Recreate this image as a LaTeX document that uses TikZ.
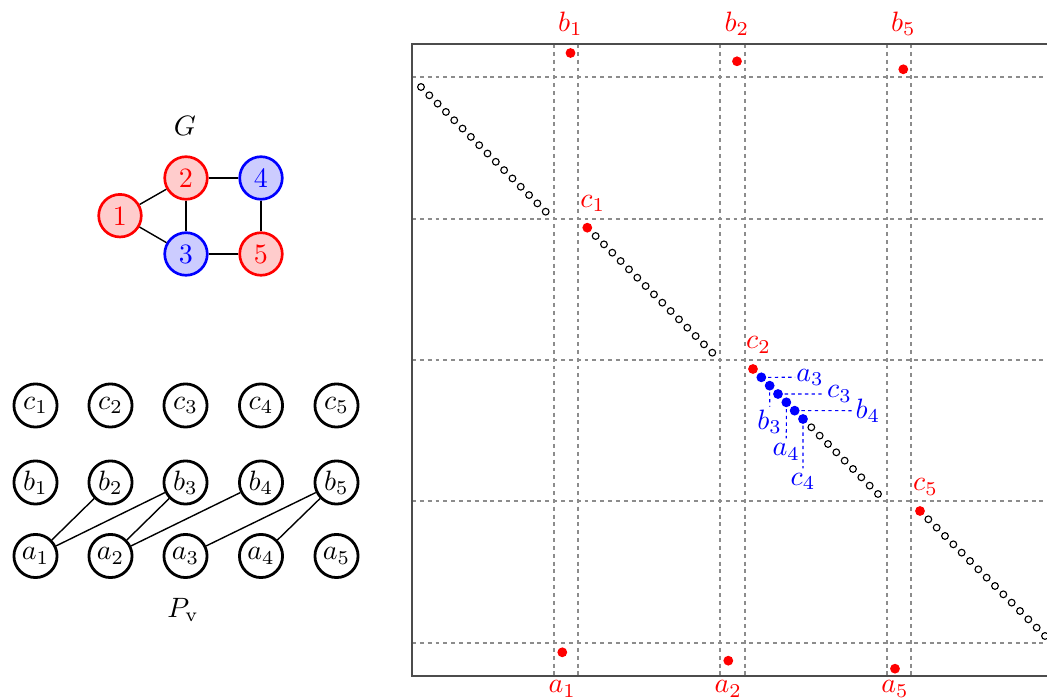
\documentclass[tikz,border=0pt]{standalone}
\usetikzlibrary{calc}
\begin{document}
\begin{tikzpicture}[x=0.357pt,y=-0.357pt,
  gnode/.style={circle,line width=0.95pt,minimum size=15.2pt,inner sep=0pt},
  rnode/.style={gnode,draw=red,fill=red!20,text=red},
  bnode/.style={gnode,draw=blue,fill=blue!20,text=blue},
  pnode/.style={circle,draw=black,line width=1pt,minimum size=15.4pt,inner sep=0pt},
  edge/.style={line width=0.5pt},
  gridline/.style={black!45,line width=0.4pt,dash pattern=on 1.4pt off 1.4pt},
  frame/.style={black!70,line width=0.5pt},
  hollow/.style={draw=black,line width=0.4pt,fill=white},
  rdot/.style={circle,fill=red,inner sep=0pt,minimum size=3.5pt},
  bdot/.style={circle,fill=blue,inner sep=0pt,minimum size=3.5pt},
  bdash/.style={blue,line width=0.4pt,dash pattern=on 1.2pt off 1.2pt},
  rlab/.style={text=red,inner sep=0pt},
  blab/.style={text=blue,inner sep=0pt},
]
\useasboundingbox (0,0) rectangle (1047,700);

% ---------- graph G ----------
\node (Glab) at (185,126) {$G$};
\node[rnode] (g1) at (120,215.7) {1};
\node[rnode] (g2) at (186,178) {2};
\node[bnode] (g4) at (261,178) {4};
\node[bnode] (g3) at (186,254) {3};
\node[rnode] (g5) at (261,254) {5};
\draw[edge] (g1) -- (g2);
\draw[edge] (g1) -- (g3);
\draw[edge] (g2) -- (g3);
\draw[edge] (g2) -- (g4);
\draw[edge] (g4) -- (g5);
\draw[edge] (g3) -- (g5);

% ---------- P_v ----------
\foreach \i/\x in {1/35.5,2/110.5,3/185.5,4/261,5/336.5} {
  \node[pnode] (c\i) at (\x,405.5) {$c_\i$};
  \node[pnode] (b\i) at (\x,482.5) {$b_\i$};
  \node[pnode] (a\i) at (\x,556) {$a_\i$};
}
\draw[edge] (a1) -- (b2);
\draw[edge] (a1) -- (b3);
\draw[edge] (a2) -- (b3);
\draw[edge] (a2) -- (b4);
\draw[edge] (a3) -- (b5);
\draw[edge] (a4) -- (b5);
\node (Pv) at (183,610) {$P_{\mathrm{v}}$};

% ---------- matrix plot ----------
\foreach \y in {77,219,360,501,643} \draw[gridline] (412,\y) -- (1047,\y);
\foreach \x in {554,578,720,745,887,911} \draw[gridline] (\x,44) -- (\x,676);
\draw[frame] (1047,44) -- (412,44) -- (412,676) -- (1047,676);

\foreach \k in {0,...,15} \draw[hollow] ({421+8.313*\k},{87+8.313*\k}) circle[radius=1.2pt];
\foreach \k in {1,...,15} \draw[hollow] ({587.3+8.333*\k},{227.7+8.333*\k}) circle[radius=1.2pt];
\foreach \k in {7,...,15} \draw[hollow] ({753+8.333*\k},{369+8.333*\k}) circle[radius=1.2pt];
\foreach \k in {1,...,15} \draw[hollow] ({920+8.333*\k},{511+8.333*\k}) circle[radius=1.2pt];

% red points and labels
\node[rdot] (pb1) at (570.5,53) {};
\node[rdot] (pb2) at (737,61.3) {};
\node[rdot] (pb5) at (903.3,69.3) {};
\node[rdot] (pa1) at (562.3,652.3) {};
\node[rdot] (pa2) at (728.3,660.7) {};
\node[rdot] (pa5) at (895,668.7) {};
\node[rdot] (pc1) at (587.3,227.7) {};
\node[rdot] (pc2) at (753,369) {};
\node[rdot] (pc5) at (920,511) {};

\node[rlab] (lb1) at (570.5,24) {$b_1$};
\node[rlab] (lb2) at (737,24) {$b_2$};
\node[rlab] (lb5) at (903.3,24) {$b_5$};
\node[rlab] (la1) at (562.3,689) {$a_1$};
\node[rlab] (la2) at (728.3,689) {$a_2$};
\node[rlab] (la5) at (895,689) {$a_5$};
\node[rlab] (lc1) at (592.8,203.5) {$c_1$};
\node[rlab] (lc2) at (758.5,345) {$c_2$};
\node[rlab] (lc5) at (925.5,487) {$c_5$};

% blue points with dashed leaders
\foreach \k in {1,...,6} \coordinate (d\k) at ({753+8.333*\k},{369+8.333*\k});
\coordinate (e1) at (795,377.3);
\coordinate (e2) at (769.7,406.7);
\coordinate (e3) at (823.3,394);
\coordinate (e4) at (786.3,438.3);
\coordinate (e5) at (851.7,410.7);
\coordinate (e6) at (803,468.3);
\foreach \k in {1,...,6} \draw[bdash] (d\k) -- (e\k);
\foreach \k in {1,...,6} \node[bdot] (bd\k) at (d\k) {};

\node[blab] (la3) at (810,377.3) {$a_3$};
\node[blab] (lb3) at (769.7,422) {$b_3$};
\node[blab] (lc3) at (839.5,394) {$c_3$};
\node[blab] (la4) at (786.3,452) {$a_4$};
\node[blab] (lb4) at (868,411) {$b_4$};
\node[blab] (lc4) at (803,481.5) {$c_4$};
\end{tikzpicture}
\end{document}
